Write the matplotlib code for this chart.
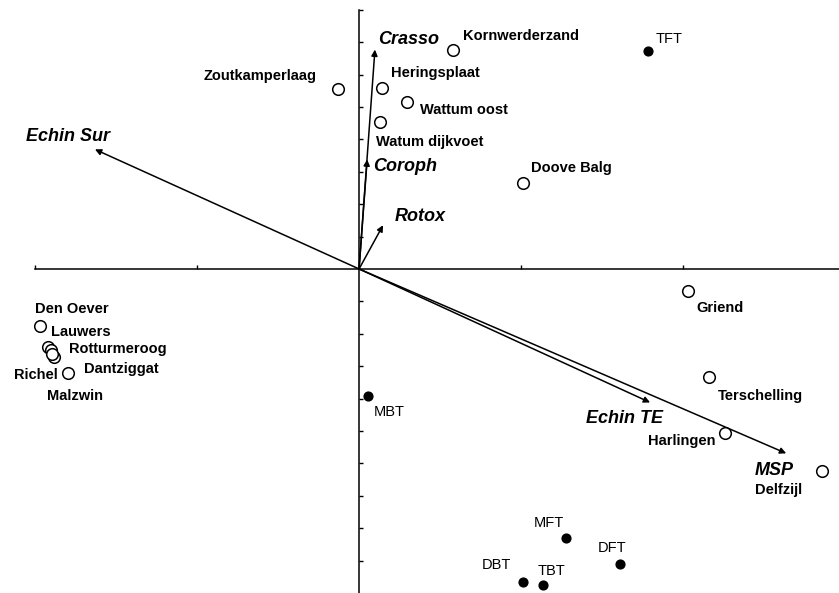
import matplotlib
matplotlib.use("Agg")
import matplotlib.pyplot as plt


# Sampling stations (site scores)
SITE_NAMES = [
    "Zoutkamperlaag", "Heringsplaat", "Wattum oost", "Watum dijkvoet",
    "Kornwerderzand", "Doove Balg", "Griend", "Terschelling", "Harlingen",
    "Delfzijl", "Den Oever", "Lauwers", "Rotturmeroog", "Dantziggat",
    "Malzwin", "Richel",
]
SITE_X = [-0.065, 0.071, 0.148, 0.065, 0.290, 0.506, 1.015, 1.080, 1.130,
          1.429, -0.985, -0.960, -0.952, -0.941, -0.946, -0.898]
SITE_Y = [0.554, 0.557, 0.514, 0.455, 0.677, 0.265, -0.068, -0.332, -0.505,
          -0.625, -0.175, -0.240, -0.250, -0.271, -0.262, -0.320]

# Organotin compounds (supplementary variables)
TIN_NAMES = ["TFT", "MBT", "MFT", "DFT", "DBT", "TBT"]
TIN_X = [0.892, 0.028, 0.639, 0.806, 0.506, 0.568]
TIN_Y = [0.674, -0.391, -0.831, -0.911, -0.966, -0.975]

# Species vectors
SPECIES_NAMES = ["Crasso", "Coroph", "Rotox", "Echin Sur", "Echin TE", "MSP"]
SPECIES_X = [0.049, 0.025, 0.074, -0.815, 0.898, 1.318]
SPECIES_Y = [0.677, 0.338, 0.135, 0.369, -0.412, -0.569]

# label placement: (dx, dy) in pixels from the point, horizontal alignment
SITE_LABEL_OFFSETS = {
    "Zoutkamperlaag": (-21, 13, "right"),
    "Heringsplaat": (9, 15, "left"),
    "Wattum oost": (13, -8, "left"),
    "Watum dijkvoet": (-4, -20, "left"),
    "Kornwerderzand": (10, 14, "left"),
    "Doove Balg": (8, 15, "left"),
    "Griend": (8, -17, "left"),
    "Terschelling": (9, -19, "left"),
    "Harlingen": (-10, -8, "right"),
    "Delfzijl": (-20, -19, "right"),
    "Den Oever": (-5, 17, "left"),
    "Lauwers": (3, 15, "left"),
    "Rotturmeroog": (18, 1, "left"),
    "Dantziggat": (30, -12, "left"),
    "Malzwin": (-5, -42, "left"),
    "Richel": (-10, -2, "right"),
}
TIN_LABEL_OFFSETS = {
    "TFT": (7, 12),
    "MBT": (6, -16),
    "MFT": (-32, 15),
    "DFT": (-23, 16),
    "DBT": (-41, 17),
    "TBT": (-6, 14),
}
SPECIES_LABEL_OFFSETS = {
    "Crasso": (3, 10),
    "Coroph": (6, -7),
    "Rotox": (12, 9),
    "Echin Sur": (-69, 13),
    "Echin TE": (-64, -16),
    "MSP": (-31, -17),
}

FONT = "Liberation Sans"


def setup_axes(ax):
    ax.set_xlim(-1.108, 1.481)
    ax.set_ylim(-1.0, 0.83)

    for side in ["top", "right"]:
        ax.spines[side].set_visible(False)
    ax.spines["left"].set_position(("data", 0))
    ax.spines["bottom"].set_position(("data", 0))
    ax.spines["left"].set_bounds(-1.0, 0.8)
    ax.spines["bottom"].set_bounds(-1.0, 1.5)
    for side in ["left", "bottom"]:
        ax.spines[side].set_linewidth(1.1)

    ax.set_xticks([-1.0, -0.5, 0.5, 1.0])
    ax.set_yticks([round(-0.9 + 0.1 * i, 1) for i in range(18) if i != 9])
    ax.tick_params(direction="in", length=3, width=1.0,
                   labelbottom=False, labelleft=False)
    ax.patch.set_alpha(0)


def main():
    fig = plt.figure(figsize=(8.39, 5.93), dpi=100)
    ax = fig.add_axes([0, 0, 1, 1])
    setup_axes(ax)

    # species arrows from the origin
    for name, x, y in zip(SPECIES_NAMES, SPECIES_X, SPECIES_Y):
        ax.annotate(
            "", xy=(x, y), xytext=(0, 0),
            arrowprops=dict(arrowstyle="-|>", color="black", lw=1.1,
                            mutation_scale=9, shrinkA=0, shrinkB=0),
        )
        dx, dy = SPECIES_LABEL_OFFSETS[name]
        ax.annotate(name, (x, y), xytext=(dx, dy), textcoords="offset pixels",
                    ha="left", va="center", fontsize=13, fontweight="bold",
                    fontstyle="italic", family=FONT)

    # stations: open circles
    ax.scatter(SITE_X, SITE_Y, s=70, facecolors="white", edgecolors="black",
               linewidths=1.1, zorder=3)
    for name, x, y in zip(SITE_NAMES, SITE_X, SITE_Y):
        dx, dy, ha = SITE_LABEL_OFFSETS[name]
        ax.annotate(name, (x, y), xytext=(dx, dy), textcoords="offset pixels",
                    ha=ha, va="center", fontsize=10.5, fontweight="bold",
                    family=FONT)

    # organotins: filled dots
    ax.scatter(TIN_X, TIN_Y, s=40, color="black", zorder=3)
    for name, x, y in zip(TIN_NAMES, TIN_X, TIN_Y):
        dx, dy = TIN_LABEL_OFFSETS[name]
        ax.annotate(name, (x, y), xytext=(dx, dy), textcoords="offset pixels",
                    ha="left", va="center", fontsize=10.5, family=FONT)

    fig.savefig("out.png", dpi=100, facecolor="white")
    plt.close(fig)


if __name__ == "__main__":
    main()
